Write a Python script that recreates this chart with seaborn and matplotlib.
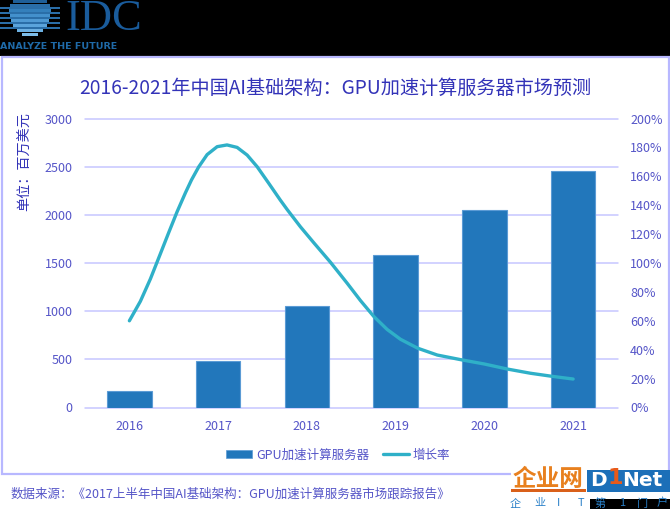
import matplotlib
matplotlib.use("Agg")
import matplotlib.pyplot as plt
from matplotlib.patches import Rectangle, Patch
from matplotlib.lines import Line2D
import numpy as np
import pandas as pd
import seaborn as sns

years = ["2016", "2017", "2018", "2019", "2020", "2021"]
revenue = [170, 480, 1050, 1580, 2050, 2460]
curve_x = [0.00, 0.124, 0.237, 0.35, 0.443, 0.538, 0.631, 0.70, 0.781, 0.876, 0.989, 1.10, 1.214,
           1.327, 1.44, 1.57, 1.70, 1.778, 1.928, 2.078, 2.266, 2.454, 2.604, 2.754, 2.905, 3.055,
           3.25, 3.47, 3.75, 4.00, 4.26, 4.52, 4.76, 5.00]
curve_growth = [60, 73.5, 89, 106.5, 121, 135.5, 148.5, 157.5, 166.5, 175, 180.5, 181.7, 180,
                174.7, 166.6, 155.2, 143.6, 137, 125, 114, 100.5, 86, 74, 63, 54, 47.2,
                41, 36.3, 32.9, 30.1, 26.6, 23.7, 21.6, 19.7]
left_ticks = [0, 500, 1000, 1500, 2000, 2500, 3000]
right_ticks = [0, 20, 40, 60, 80, 100, 120, 140, 160, 180, 200]

title = "2016-2021年中国AI基础架构：GPU加速计算服务器市场预测"
ylabel = "单位：百万美元"
source = "数据来源：《2017上半年中国AI基础架构：GPU加速计算服务器市场跟踪报告》"
bar_name = "GPU加速计算服务器"
line_name = "增长率"

sns.set_theme(style="white")
plt.rcParams["font.family"] = ["Noto Sans CJK SC", "DejaVu Sans"]

BAR = "#2277bb"
LINE = "#2fb0c8"
TITLE = "#3333b8"
TICK = "#5555c8"
GRID = "#c6c6ff"
FRAME = "#b8b8ff"
W, H = 670, 509

fig = plt.figure(figsize=(W / 100, H / 100), dpi=100, facecolor="white")

# page furniture in pixel coordinates
bg = fig.add_axes([0, 0, 1, 1], zorder=0)
bg.set_xlim(0, W)
bg.set_ylim(H, 0)
bg.axis("off")
bg.add_patch(Rectangle((0, 0), W, 56, color="black", lw=0))
bg.add_patch(Rectangle((1.5, 57), W - 3, 417, fc="white", ec=FRAME, lw=1.6))

# IDC logo: thin bars behind a striped globe
for y0 in (7, 12, 17, 22, 27):
    bg.add_patch(Rectangle((0, y0), 60, 1.8, color="#2a6ea8", lw=0))
for y0, x0, x1, col in [(0, 13, 47, "#1f5f98"), (4, 10, 50, "#2a6ea8"), (9, 9, 51, "#3480bc"),
                        (14, 10, 50, "#4390cc"), (19, 11, 49, "#4f9ad4"), (24, 13, 47, "#5aa4dc"),
                        (29, 17, 43, "#6cb0e2"), (33, 22, 38, "#7cbce8")]:
    bg.add_patch(Rectangle((x0, y0), x1 - x0, 3.4, color=col, lw=0))
bg.text(65, 30, "IDC", family="Liberation Serif", fontsize=32, color="#1a5c9c",
        ha="left", va="baseline")
bg.text(0, 46.5, "ANALYZE THE FUTURE", family="DejaVu Sans", fontsize=6.8, weight="bold",
        color="#1f6aa8", ha="left", va="center")

# DINet logo
bg.add_patch(Rectangle((511, 469), 76, 24, color="white", lw=0))
bg.add_patch(Rectangle((587, 470), 83, 22, color="#1c6fb8", lw=0))
bg.add_patch(Rectangle((590, 499), 80, 10, color="black", lw=0))
bg.add_patch(Rectangle((511, 489), 75, 2.5, color="#d9601a", lw=0))
bg.text(548.5, 479, "企业网", fontsize=17, weight="bold", color="#e8801e", ha="center", va="center")
bg.text(590, 481, "D", family="DejaVu Sans", fontsize=14.5, weight="bold", color="white",
        ha="left", va="center")
bg.text(607, 478, "1", family="DejaVu Sans", fontsize=16, weight="bold", color="#e85a1a",
        ha="left", va="center")
bg.text(622, 481, "Net", family="DejaVu Sans", fontsize=14.5, weight="bold", color="white",
        ha="left", va="center")
for cx, ch in zip((515, 540, 559, 581, 600, 622, 643, 662), "企业IT第1门户"):
    bg.text(cx, 503.5, ch, fontsize=8, color="#2a80c8", ha="center", va="center")

# texts
bg.text(335, 88, title, fontsize=13.8, color=TITLE, ha="center", va="center")
bg.text(25, 162, ylabel, fontsize=10.2, color=TITLE, rotation=90, ha="center", va="center")
bg.text(11, 494, source, fontsize=9.0, color=TICK, ha="left", va="center")

# main axes
ax = fig.add_axes([85 / W, 1 - 407.5 / H, 532.5 / W, 289 / H], zorder=2)
ax.patch.set_alpha(0)
df = pd.DataFrame({"year": years, "revenue": revenue})
sns.barplot(data=df, x="year", y="revenue", color=BAR, saturation=1, width=0.5,
            edgecolor="#5b9bd5", linewidth=0.8, ax=ax, zorder=3)
ax.set_xlim(-0.5, 5.5)
ax.set_ylim(0, 3000)
ax.set_yticks(left_ticks)
ax.set_xlabel("")
ax.set_ylabel("")
ax.grid(axis="y", color=GRID, lw=1.1, zorder=0, clip_on=False)
ax.set_axisbelow(True)
ax.tick_params(axis="y", length=0, pad=9, labelsize=9, labelcolor=TICK)
ax.tick_params(axis="x", length=0, pad=9, labelsize=9, labelcolor=TICK)
sns.despine(ax=ax, left=True, right=True, top=True, bottom=True)

ax2 = ax.twinx()
ax2.set_zorder(3)
ax2.patch.set_alpha(0)
line_df = pd.DataFrame({"x": curve_x, "growth": curve_growth})
sns.lineplot(data=line_df, x="x", y="growth", estimator=None, sort=False, color=LINE, lw=2.4,
             solid_capstyle="round", solid_joinstyle="round", ax=ax2, zorder=5)
ax2.set_xlim(-0.5, 5.5)
ax2.set_ylim(0, 200)
ax2.set_yticks(right_ticks)
ax2.set_yticklabels([f"{v}%" for v in right_ticks])
ax2.set_ylabel("")
ax2.grid(False)
ax2.tick_params(axis="y", length=0, pad=9, labelsize=9, labelcolor=TICK)
sns.despine(ax=ax2, left=True, right=True, top=True, bottom=True)

handles = [Patch(facecolor=BAR, edgecolor="#5b9bd5", lw=0.5, label=bar_name),
           Line2D([0], [0], color=LINE, lw=2.4, solid_capstyle="round", label=line_name)]
fig.legend(handles=handles, loc="center", bbox_to_anchor=(338 / W, 1 - 455 / H), ncol=2, frameon=False,
           fontsize=9, labelcolor=TICK, handlelength=2.1, handleheight=0.55, handletextpad=0.3,
           columnspacing=1.1, borderpad=0)

fig.savefig("out.png", dpi=100, facecolor="white")
